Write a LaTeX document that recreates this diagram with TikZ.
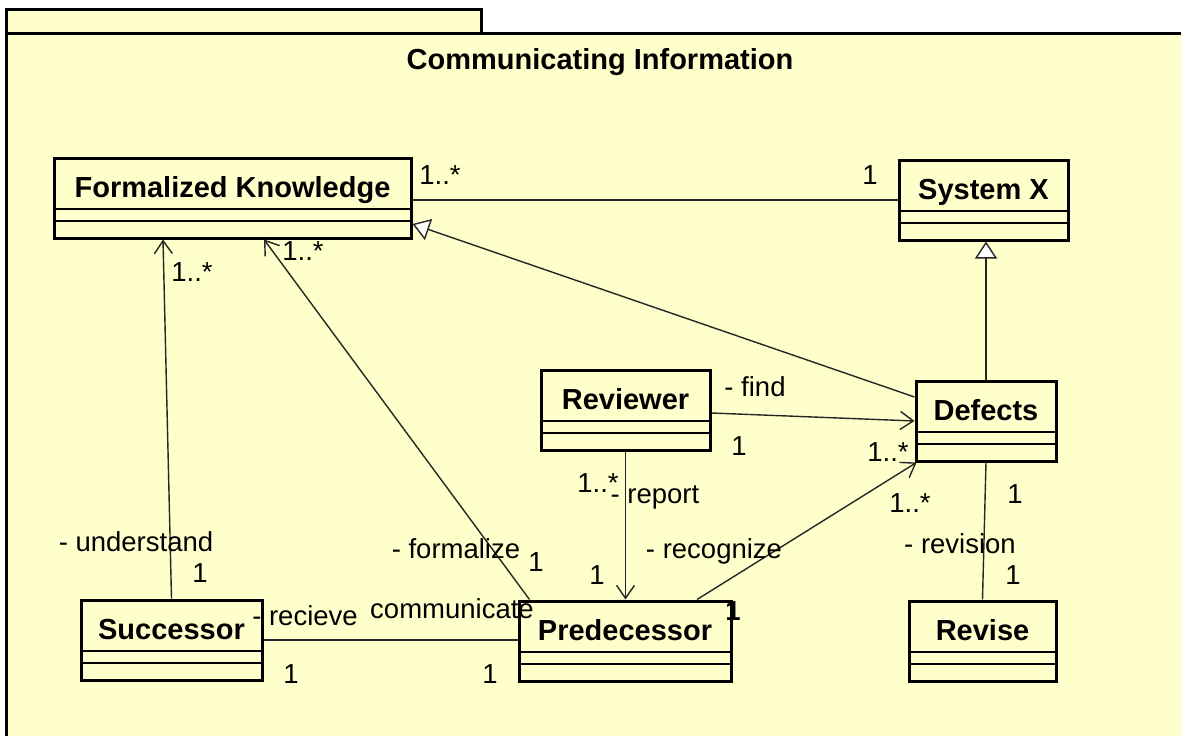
\documentclass[tikz,border=0pt]{standalone}
\usepackage{fontspec}
\setmainfont{Liberation Sans}
\usetikzlibrary{arrows.meta}
\definecolor{pkgfill}{HTML}{FFFFCC}

\begin{document}
\begin{tikzpicture}[x=1pt,y=-1pt,
  pkg/.style={draw, line width=3pt, fill=pkgfill},
  cls/.style={draw, line width=3pt, fill=pkgfill, inner sep=0pt,
    minimum height=80pt, text height=39pt, text depth=41pt,
    font=\fontsize{29}{32}\selectfont\bfseries,
    path picture={
      \draw[line width=1.8pt] ([yshift=-51pt]path picture bounding box.north west) -- ([yshift=-51pt]path picture bounding box.north east);
      \draw[line width=1.8pt] ([yshift=-63pt]path picture bounding box.north west) -- ([yshift=-63pt]path picture bounding box.north east);}},
  lbl/.style={font=\fontsize{27.5}{30}\selectfont, inner sep=0pt},
  assoc/.style={line width=1.4pt, draw=black!85},
  nav/.style={assoc, -{Straight Barb[length=13pt,width=18pt,line width=1.4pt]}},
  gen/.style={assoc, -{Triangle[open,fill=white,length=17pt,width=22pt,line width=1.4pt]}}]

\useasboundingbox (0,0) rectangle (1181,736);
\clip (0,0) rectangle (1181,736);
\fill[white] (0,0) rectangle (1181,736);

% package frame with its tab
\draw[pkg] (6,9) rectangle (481,33);
\draw[pkg] (6,33) rectangle (1200,760);
\node[font=\fontsize{29}{32}\selectfont\bfseries] (title) at (600,62) {Communicating Information};

% classes
\node[cls, minimum width=357pt] (fk)   at (232.5,198) {Formalized Knowledge};
\node[cls, minimum width=169pt] (sysx) at (983.5,200) {System X};
\node[cls, minimum width=169pt] (rev)  at (625.5,410) {Reviewer};
\node[cls, minimum width=140pt] (def)  at (986,421)   {Defects};
\node[cls, minimum width=181pt] (suc)  at (171.5,640) {Successor};
\node[cls, minimum width=212pt] (pred) at (625,641)   {Predecessor};
\node[cls, minimum width=147pt] (rvs)  at (982.5,641) {Revise};

% associations
\draw[assoc] (fk.east |- sysx.west) -- (sysx.west);
\draw[nav] (suc.north) -- ([xshift=-69.5pt]fk.south);
\draw[nav] ([xshift=12pt]pred.north west) -- ([xshift=31.5pt]fk.south);
\draw[assoc] (suc.east) -- (suc.east -| pred.west);
\draw[nav] (rev.south) -- (rev.south |- pred.north);
\draw[nav] ([yshift=-3pt]rev.east) -- (def.west);
\draw[nav] ([xshift=72pt]pred.north) -- ([xshift=2pt]def.south west);
\draw[assoc] (def.south) -- (rvs.north);

% generalizations
\draw[gen] ([yshift=24pt]def.west) -- ([yshift=-26pt]fk.east);
\draw[gen] (def.north) -- (def.north |- sysx.south);

% role names and multiplicities
\node[lbl] (m1) at (440,175) {1..*};
\node[lbl] (m2) at (870,175) {1};
\node[lbl] (m3) at (192,272) {1..*};
\node[lbl] (m4) at (303,251) {1..*};
\node[lbl] (r1) at (136,542) {- understand};
\node[lbl] (m5) at (200,573) {1};
\node[lbl] (r2) at (456,549) {- formalize};
\node[lbl] (m6) at (536,562) {1};
\node[lbl] (r3) at (305,616) {- recieve};
\node[lbl] (r4) at (452,609) {communicate};
\node[lbl] (m7) at (291,674) {1};
\node[lbl] (m8) at (490,674) {1};
\node[lbl] (r5) at (755,387) {- find};
\node[lbl] (m9) at (739,446) {1};
\node[lbl] (m10) at (888,452) {1..*};
\node[lbl] (m11) at (598,483) {1..*};
\node[lbl] (r6) at (655,497) {- report};
\node[lbl] (m12) at (597,575) {1};
\node[lbl] (r7) at (714,551) {- recognize};
\node[lbl] (m13) at (910,503) {1..*};
\node[lbl, font=\fontsize{27.5}{30}\selectfont\bfseries] (m14) at (733,611) {1};
\node[lbl] (m15) at (1015,494) {1};
\node[lbl] (r8) at (960,544) {- revision};
\node[lbl] (m16) at (1013,575) {1};
\end{tikzpicture}
\end{document}
